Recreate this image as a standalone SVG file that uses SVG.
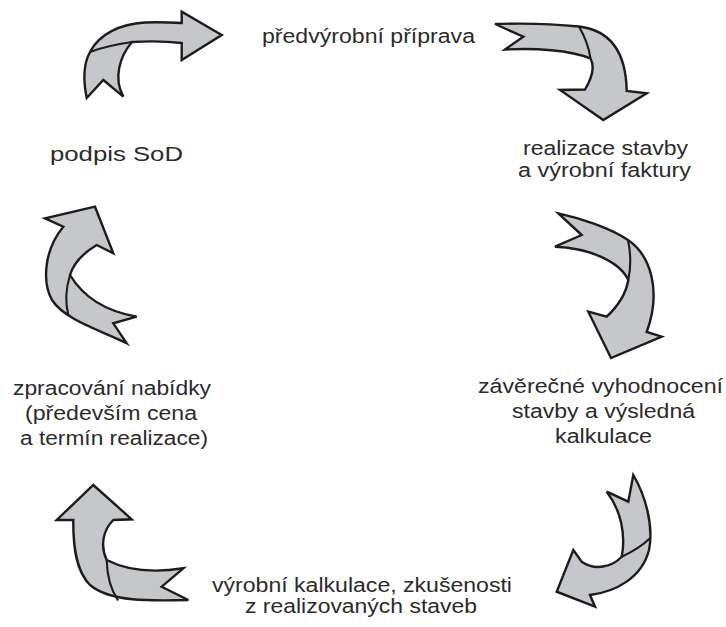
<svg xmlns="http://www.w3.org/2000/svg" width="726" height="627" viewBox="0 0 726 627">
  <style>
    .arrow { fill: #c6c7ca; stroke: #1c1c1c; stroke-width: 2.4; stroke-linejoin: miter; }
    .fold { fill: none; stroke: #1c1c1c; stroke-width: 2.1; }
    .lbl { font-family: "Liberation Sans", Arial, Helvetica, sans-serif; font-size: 19.5px; fill: #2b2b2b; }
  </style>
  <rect width="726" height="627" fill="#ffffff"/>

  <!-- curved arrows of the cycle -->
  <g id="connectors">
    <g id="arrow-top-left">
      <path class="arrow" d="M86.7,98 C83,80 84,63 90,52 C99,34 120,24 145,22.5 C160,22 172,22.5 181.7,23 L181.7,11.7 L221.7,35 L181.7,60 L181.7,43 C165,41 148,41 132,42 C120,56 113,78 123.3,96.7 L103.3,80 Z"/>
      <path class="fold" d="M90,52 C103,47 118,44 132,42"/>
    </g>
    <g id="arrow-top-right">
      <path class="arrow" d="M495,24 C525,23 555,24 579,26.5 C608,30 626,50 626.7,91 L646.7,93.3 L603.3,120 L560,90 L585,89.5 C592,78 595,67 590.5,58.5 C570,50 535,48 505,49.5 L523.3,36.7 Z"/>
      <path class="fold" d="M579,26.5 C585,37 589,48 590.5,58.5"/>
    </g>
    <g id="arrow-right">
      <path class="arrow" d="M558.3,213.3 C580,218 610,228 628,240 C650,255 662,290 646.7,332 L661.7,336.7 L611,358 L588.3,311.7 L606.7,316.7 C618,306 626,294 628.3,280 C620,262 590,248 555,246.7 L581.7,235 Z"/>
      <path class="fold" d="M628,240 C631,254 631,267 628.3,280"/>
    </g>
    <g id="arrow-bottom-right">
      <path class="arrow" d="M633.3,475 C645,495 654,525 649,550 C642,578 615,592 590,595 L595,606.7 L556.7,591.7 L573.3,550 L581.7,561.7 C595,571 612,567 621.7,556.7 C626,535 621,510 606.7,491.7 L628.3,501.7 Z"/>
      <path class="fold" d="M621.7,556.7 C632,552 642,546 650,538.3"/>
    </g>
    <g id="arrow-bottom-left">
      <path class="arrow" d="M93.3,485 L131.7,519.3 L113.3,520 C103,530 100,546 106.7,560 C130,572 160,572 183.3,568.3 L161.7,586.7 L188.3,600 C150,601 110,602 90,585 C77,572 73,550 73.3,520 L56.7,520 Z"/>
      <path class="fold" d="M106.7,560 C107,575 111,590 118,600.5"/>
    </g>
    <g id="arrow-left">
      <path class="arrow" d="M95,206.7 L113.3,253.3 L96.7,245 C85,252 74,262 70,275 C85,300 110,312 136.7,316.7 L113.3,323.3 L126.7,343.3 C100,330 65,320 52,300 C42,282 44,250 63.3,226.7 L45,218.3 Z"/>
      <path class="fold" d="M70,275 C66,288 65,302 68.3,315"/>
    </g>
  </g>

  <!-- stage labels -->
  <g id="node-priprava">
    <text class="lbl" x="262" y="43" textLength="213" lengthAdjust="spacingAndGlyphs">předvýrobní příprava</text>
  </g>
  <g id="node-realizace">
    <text class="lbl" x="523" y="155" textLength="165" lengthAdjust="spacingAndGlyphs">realizace stavby</text>
    <text class="lbl" x="518" y="177" textLength="173" lengthAdjust="spacingAndGlyphs">a výrobní faktury</text>
  </g>
  <g id="node-vyhodnoceni">
    <text class="lbl" x="478" y="393" textLength="245" lengthAdjust="spacingAndGlyphs">závěrečné vyhodnocení</text>
    <text class="lbl" x="512" y="418" textLength="183" lengthAdjust="spacingAndGlyphs">stavby a výsledná</text>
    <text class="lbl" x="555" y="443" textLength="97" lengthAdjust="spacingAndGlyphs">kalkulace</text>
  </g>
  <g id="node-kalkulace">
    <text class="lbl" x="212" y="592" textLength="300" lengthAdjust="spacingAndGlyphs">výrobní kalkulace, zkušenosti</text>
    <text class="lbl" x="245" y="613" textLength="232" lengthAdjust="spacingAndGlyphs">z realizovaných staveb</text>
  </g>
  <g id="node-nabidka">
    <text class="lbl" x="13" y="395" textLength="198" lengthAdjust="spacingAndGlyphs">zpracování nabídky</text>
    <text class="lbl" x="25" y="420" textLength="172" lengthAdjust="spacingAndGlyphs">(především cena</text>
    <text class="lbl" x="20" y="445" textLength="188" lengthAdjust="spacingAndGlyphs">a termín realizace)</text>
  </g>
  <g id="node-sod">
    <text class="lbl" x="50" y="161" textLength="133" lengthAdjust="spacingAndGlyphs">podpis SoD</text>
  </g>
</svg>
